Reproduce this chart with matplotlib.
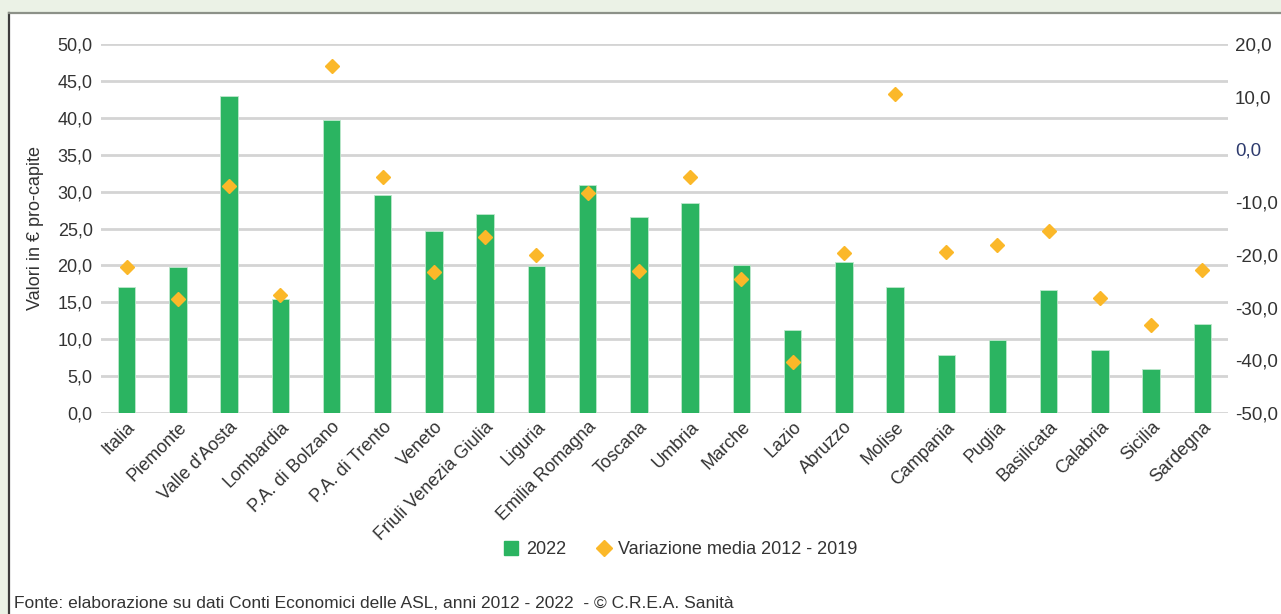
import matplotlib.pyplot as plt
from matplotlib.patches import Rectangle
from matplotlib.lines import Line2D
from matplotlib.ticker import FuncFormatter

plt.rcParams['font.family'] = ['Liberation Sans', 'DejaVu Sans']

# ---- data ----
regioni = ["Italia", "Piemonte", "Valle d'Aosta", "Lombardia", "P.A. di Bolzano",
           "P.A. di Trento", "Veneto", "Friuli Venezia Giulia", "Liguria",
           "Emilia Romagna", "Toscana", "Umbria", "Marche", "Lazio", "Abruzzo",
           "Molise", "Campania", "Puglia", "Basilicata", "Calabria", "Sicilia",
           "Sardegna"]
valori_2022 = [17.1, 19.8, 43.0, 15.5, 39.7, 29.6, 24.7, 26.9, 19.9, 30.9, 26.5,
               28.4, 20.0, 11.3, 20.5, 17.1, 7.9, 9.9, 16.7, 8.5, 6.0, 12.1]
var_media = [-22.3, -28.4, -7.0, -27.6, 15.9, -5.3, -23.3, -16.7, -20.0, -8.3,
             -23.0, -5.2, -24.5, -40.4, -19.7, 10.5, -19.5, -18.1, -15.5, -28.2,
             -33.3, -22.9]

GREEN = '#2bb461'
AMBER = '#fbb829'
TXT = '#333333'

fig = plt.figure(figsize=(12.81, 6.14), dpi=100)
fig.patch.set_facecolor('#ebf2e6')

# white panel with border (runs off the right and bottom edges)
x0, ytop = 9 / 1281, 1 - 13 / 614
fig.patches.append(Rectangle((x0, -0.1), 1.2, ytop + 0.1, transform=fig.transFigure,
                             facecolor='white', edgecolor='none', zorder=-1))
fig.lines.append(Line2D([x0, x0], [-0.1, ytop], transform=fig.transFigure,
                        color='#3c3c3c', lw=1.6))
fig.lines.append(Line2D([x0, 1.1], [ytop, ytop], transform=fig.transFigure,
                        color='#8c9188', lw=1.6))

ax = fig.add_axes([101 / 1281, 1 - 413 / 614, 1127 / 1281, 369 / 614])
ax.set_facecolor('none')
x = range(len(regioni))

ax.bar(x, valori_2022, width=0.34, color=GREEN, edgecolor='#bfe8cd', lw=0.6, zorder=2)
ax.set_ylim(0, 50)
ax.set_yticks(range(0, 51, 5))
ax.set_xlim(-0.5, len(regioni) - 0.5)
ax.yaxis.set_major_formatter(FuncFormatter(lambda v, p: f"{v:.1f}".replace('.', ',')))
ax.grid(axis='y', color='#d4d4d4', lw=2, zorder=1)
ax.set_axisbelow(True)
for s in ax.spines.values():
    s.set_visible(False)
ax.tick_params(axis='y', length=0, pad=6, labelsize=13, labelcolor=TXT)
ax.tick_params(axis='x', length=0, pad=4, labelsize=13, labelcolor=TXT)
ax.set_xticks(list(x))
ax.set_xticklabels(regioni, rotation=45, ha='right', rotation_mode='anchor')
ax.set_ylabel("Valori in € pro-capite", fontsize=13, color=TXT, labelpad=10)

ax2 = ax.twinx()
ax2.plot(x, var_media, ls='none', marker='D', ms=7, color=AMBER, zorder=3)
ax2.set_ylim(-50, 20)
ax2.set_yticks(range(-50, 21, 10))
ax2.yaxis.set_major_formatter(FuncFormatter(lambda v, p: f"{v:.1f}".replace('.', ',')))
for s in ax2.spines.values():
    s.set_visible(False)
ax2.tick_params(axis='y', length=0, pad=5, labelsize=13.5, labelcolor=TXT)
fig.canvas.draw()
for t, lab in zip(ax2.get_yticks(), ax2.get_yticklabels()):
    if abs(t) < 1e-9:
        lab.set_color('#2e3b6e')

handles = [Line2D([], [], ls='none', marker='s', ms=10, color=GREEN),
           Line2D([], [], ls='none', marker='D', ms=8.5, color=AMBER)]
fig.legend(handles, ['2022', 'Variazione media 2012 - 2019'], loc='center',
           bbox_to_anchor=(680 / 1281, 1 - 550 / 614), ncol=2, frameon=False,
           fontsize=13, labelcolor=TXT, handletextpad=0.3, columnspacing=1.6,
           handlelength=1.0)

fig.text(14 / 1281, 1 - 604 / 614, "Fonte: elaborazione su dati Conti Economici delle ASL, "
         "anni 2012 - 2022  - © C.R.E.A. Sanità", fontsize=12.5, color=TXT, va='center')

fig.savefig('out.png', dpi=100, facecolor=fig.get_facecolor())
